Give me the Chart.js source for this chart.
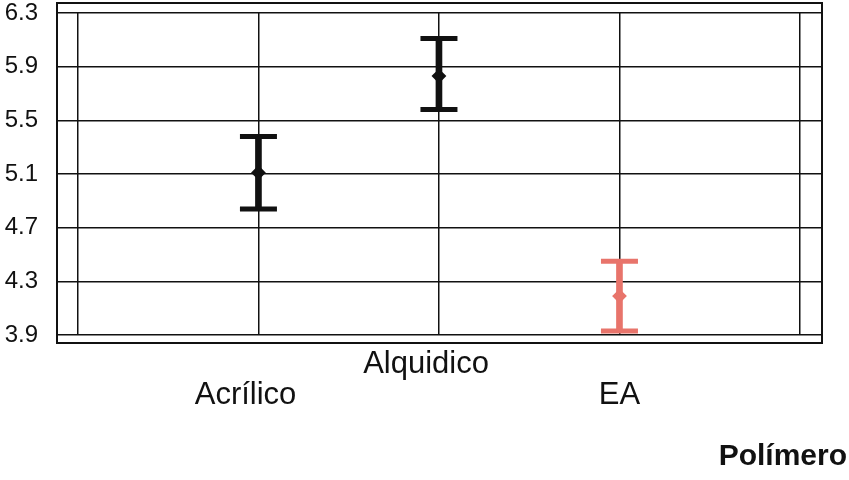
<!DOCTYPE html>
<html>
<head>
<meta charset="utf-8">
<script src="https://cdn.jsdelivr.net/npm/chart.js@4"></script>
<style>
  html, body { margin: 0; padding: 0; background: #fff; }
  #wrap { width: 849px; height: 480px; }
</style>
</head>
<body>
<div id="wrap"><canvas id="myChart" width="849" height="480"></canvas></div>
<script>
'use strict';
const categories = ['Acrílico', 'Alquidico', 'EA'];
const labelRow = [1, 0, 1];
const means = [5.11, 5.83, 4.19];
const lows = [4.84, 5.58, 3.93];
const highs = [5.38, 6.11, 4.45];
const colors = ['#111111', '#111111', '#e8746b'];
const yTicks = [3.9, 4.3, 4.7, 5.1, 5.5, 5.9, 6.3];
const xGrid = [0, 1, 2, 3, 4];

const ink = '#111';
const fontFamily = '"Liberation Sans", Arial, sans-serif';

// x position of each category: 1, 2, 3
const stems = categories.map((c, i) => ({ x: i + 1, y: [lows[i], highs[i]] }));
const tops = categories.map((c, i) => ({ x: i + 1, y: highs[i] }));
const bottoms = categories.map((c, i) => ({ x: i + 1, y: lows[i] }));
const centers = categories.map((c, i) => ({ x: i + 1, y: means[i] }));

// outer box round the plot, a bit taller than the grid
const framePlugin = {
  id: 'frame',
  beforeDatasetsDraw(chart) {
    const a = chart.chartArea;
    const ctx = chart.ctx;
    ctx.save();
    ctx.strokeStyle = ink;
    ctx.lineWidth = 2;
    ctx.strokeRect(a.left, a.top - 10, a.right - a.left, a.bottom - a.top + 18);
    ctx.restore();
  }
};

const capStyle = {
  type: 'scatter',
  pointStyle: 'line',
  pointRadius: 18.5,
  pointBorderWidth: 5,
  pointBorderColor: colors,
  pointBackgroundColor: colors
};

let ctx = document.getElementById('myChart').getContext('2d');
let chart = new Chart(ctx, {
  type: 'bar',
  data: {
    datasets: [
      {
        type: 'bar',
        data: stems,
        backgroundColor: colors,
        borderWidth: 0,
        barThickness: 6
      },
      Object.assign({ data: tops }, capStyle),
      Object.assign({ data: bottoms }, capStyle),
      {
        type: 'scatter',
        data: centers,
        pointStyle: 'rectRot',
        pointRadius: 6,
        pointBorderWidth: 2,
        pointBorderColor: colors,
        pointBackgroundColor: colors
      }
    ]
  },
  options: {
    responsive: false,
    animation: false,
    layout: { autoPadding: false, padding: { top: 13, right: 2, bottom: 0, left: 0 } },
    plugins: {
      legend: { display: false },
      tooltip: { enabled: false },
      title: {
        display: true,
        position: 'bottom',
        align: 'end',
        text: 'Polímero',
        color: ink,
        font: { family: fontFamily, size: 30, weight: 'bold', lineHeight: 1.2 },
        padding: { top: 27, bottom: 5 }
      }
    },
    scales: {
      x: {
        type: 'linear',
        offset: false,
        min: -0.116,
        max: 4.122,
        afterBuildTicks: s => { s.ticks = xGrid.map(v => ({ value: v })); },
        afterFit: s => { s.height = 77; },
        grid: { color: ink, lineWidth: 1.5, drawTicks: false, offset: false },
        border: { display: false },
        ticks: {
          padding: 14,
          color: ink,
          maxRotation: 0,
          autoSkip: false,
          font: { family: fontFamily, size: 31, lineHeight: 1.0 },
          callback: v => {
            const i = v - 1;
            if (i < 0 || i >= categories.length) return '';
            const name = i < 2 ? categories[i] + '   ' : categories[i];
            return labelRow[i] === 0 ? [name, ''] : ['', name];
          }
        }
      },
      y: {
        min: 3.9,
        max: 6.3,
        afterBuildTicks: s => { s.ticks = yTicks.map(v => ({ value: v })); },
        afterFit: s => { s.width = 57; s.paddingTop = 12; s.paddingBottom = 12; },
        grid: { color: ink, lineWidth: 1.5, drawTicks: false },
        border: { display: false },
        ticks: {
          padding: 19,
          color: ink,
          font: { family: fontFamily, size: 24, lineHeight: 1.0 },
          callback: v => v.toFixed(1)
        }
      },
      yRight: {
        type: 'linear',
        position: 'right',
        grid: { display: false },
        border: { display: false },
        ticks: { display: false },
        afterFit: s => { s.width = 25; }
      }
    }
  },
  plugins: [framePlugin]
});
</script>
</body>
</html>
